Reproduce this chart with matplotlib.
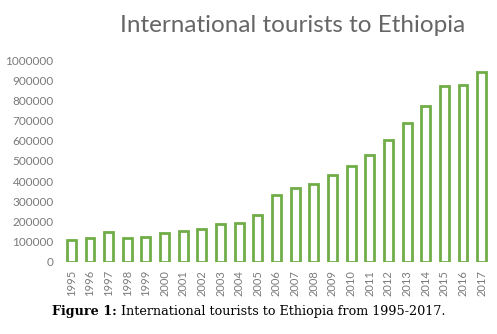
import matplotlib
matplotlib.use("Agg")
import matplotlib.pyplot as plt

years = [str(y) for y in range(1995, 2018)]
tourists = [107000, 116000, 146000, 117000, 121000, 142000, 154000, 160000,
            187000, 190000, 230000, 332000, 367000, 387000, 431000, 473000,
            527000, 602000, 688000, 773000, 870000, 875000, 941000]
yticks = list(range(0, 1000001, 100000))

W, H = 497, 334
fig = plt.figure(figsize=(W / 100, H / 100), dpi=100)
ax = fig.add_axes([62 / W, 1 - 261.7 / H, (491 - 62) / W, (261.7 - 60) / H])

green = "#70AD47"
gray = "#7a7a7a"

ax.bar(range(len(years)), tourists, width=0.48, color="white",
       edgecolor=green, linewidth=2)
ax.set_xlim(-0.5, len(years) - 0.5)
ax.set_ylim(0, 1000000)
ax.set_yticks(yticks)
ax.set_yticklabels([str(v) for v in yticks], fontsize=8.5, color=gray, family="Lato")
ax.set_xticks(range(len(years)))
ax.set_xticklabels(years, rotation=90, fontsize=8, color=gray, family="Lato")
ax.tick_params(length=0, pad=6)
for s in ax.spines.values():
    s.set_visible(False)

fig.text(293 / W, 1 - 25 / H, "International tourists to Ethiopia", ha="center",
         va="center", fontsize=17.5, color="#666666", family="Lato")

# caption: bold label then regular text
fig.canvas.draw()
r = fig.canvas.get_renderer()
t1 = fig.text(52 / W, 1 - 312 / H, "Figure 1:", fontsize=9.2, fontweight="bold",
              family="DejaVu Serif", va="center", color="black")
bb = t1.get_window_extent(r)
fig.text((bb.x1 + 4) / W, 1 - 312 / H, "International tourists to Ethiopia from 1995-2017.",
         fontsize=9.2, family="DejaVu Serif", va="center", color="black")

fig.savefig("out.png", dpi=100)
